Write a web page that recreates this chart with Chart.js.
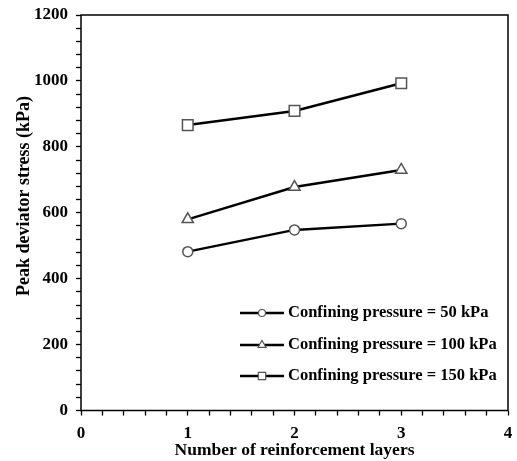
<!DOCTYPE html>
<html>
<head>
<meta charset="UTF-8">
<script src="https://cdn.jsdelivr.net/npm/chart.js"></script>
<style>
  body { margin: 0; background: #fff; }
</style>
</head>
<body>
<canvas id="peakChart" width="517" height="461"></canvas>
<script>
// values
var layers = [1, 2, 3];
var stress50 = [482, 548, 567];
var stress100 = [580, 678, 730];
var stress150 = [866, 909, 993];
var seriesLabels = ['Confining pressure = 50 kPa', 'Confining pressure = 100 kPa', 'Confining pressure = 150 kPa'];
var xTicks = [0, 1, 2, 3, 4];
var yTicks = [0, 200, 400, 600, 800, 1000, 1200];
var yTitle = 'Peak deviator stress (kPa)';

var serif = '"Liberation Serif", "Times New Roman", serif';

function toPoints(vals) {
    return layers.map(function (x, i) { return { x: x, y: vals[i] }; });
}

function makeSet(label, vals, style, radius) {
    return {
        label: label,
        data: toPoints(vals),
        showLine: true,
        borderColor: '#000',
        borderWidth: 2.5,
        pointStyle: style,
        pointRadius: radius,
        pointBorderColor: '#555',
        pointBorderWidth: 1.5,
        pointBackgroundColor: '#fff'
    };
}

// frame around the plot area, y title and the legend inside the plot
var framePlugin = {
    id: 'frame',
    afterDraw: function (chart) {
        var c = chart.ctx, a = chart.chartArea;
        c.save();
        c.strokeStyle = '#000';
        c.lineWidth = 1.5;
        c.strokeRect(a.left, a.top, a.right - a.left, a.bottom - a.top);

        c.save();
        c.translate(24, 196);
        c.rotate(-Math.PI / 2);
        c.font = 'bold 18px ' + serif;
        c.textAlign = 'center';
        c.textBaseline = 'middle';
        c.fillStyle = '#000';
        c.fillText(yTitle, 0, 0);
        c.restore();

        var rowY = [313, 345, 376];
        c.font = 'bold 16.5px ' + serif;
        c.textBaseline = 'middle';
        chart.data.datasets.forEach(function (ds, i) {
            var y = rowY[i];
            c.strokeStyle = '#000';
            c.lineWidth = 2.5;
            c.beginPath();
            c.moveTo(240, y);
            c.lineTo(284, y);
            c.stroke();
            c.strokeStyle = '#555';
            c.fillStyle = '#fff';
            c.lineWidth = 1.2;
            Chart.helpers.drawPoint(c, { pointStyle: ds.pointStyle, radius: ds.pointRadius * 0.7, rotation: 0, borderWidth: 1.2 }, 262, y);
            c.fillStyle = '#000';
            c.fillText(ds.label, 288, y);
        });
        c.restore();
    }
};

function isMajor(v, tickList) {
    return tickList.some(function (t) { return Math.abs(v - t) < 1e-6; });
}

var ctx = document.getElementById('peakChart').getContext('2d');
var peakChart = new Chart(ctx, {
    type: 'scatter',
    data: {
        datasets: [
            makeSet(seriesLabels[0], stress50, 'circle', 5),
            makeSet(seriesLabels[1], stress100, 'triangle', 6.5),
            makeSet(seriesLabels[2], stress150, 'rect', 7.5)
        ]
    },
    options: {
        responsive: false,
        animation: false,
        layout: { padding: { left: 0, top: 15, right: 8, bottom: 0 } },
        plugins: {
            legend: { display: false },
            tooltip: { enabled: false }
        },
        scales: {
            x: {
                type: 'linear',
                min: 0,
                max: 4,
                border: { display: false },
                grid: { drawOnChartArea: false, color: '#000', tickLength: 5, tickWidth: 1.3 },
                ticks: {
                    stepSize: 0.2,
                    autoSkip: false,
                    maxRotation: 0,
                    padding: 8,
                    color: '#000',
                    font: { family: serif, size: 17, weight: 'bold' },
                    callback: function (v) { return isMajor(v, xTicks) ? Math.round(v) : ''; }
                },
                title: {
                    display: true,
                    text: 'Number of reinforcement layers',
                    color: '#000',
                    font: { family: serif, size: 17.5, weight: 'bold' },
                    padding: { top: 0, bottom: 0 }
                },
                afterFit: function (s) {
                    s.height = 50.5;
                    s.paddingLeft = 0;
                    s.paddingRight = 0;
                }
            },
            y: {
                min: 0,
                max: 1200,
                border: { display: false },
                grid: { drawOnChartArea: false, color: '#000', tickLength: 5, tickWidth: 1.3 },
                ticks: {
                    stepSize: 40,
                    autoSkip: false,
                    padding: 8,
                    color: '#000',
                    font: { family: serif, size: 17, weight: 'bold' },
                    callback: function (v) { return isMajor(v, yTicks) ? Math.round(v) : ''; }
                },
                afterFit: function (s) {
                    s.width = 81;
                    s.paddingTop = 0;
                    s.paddingBottom = 0;
                }
            }
        }
    },
    plugins: [framePlugin]
});
</script>
</body>
</html>
